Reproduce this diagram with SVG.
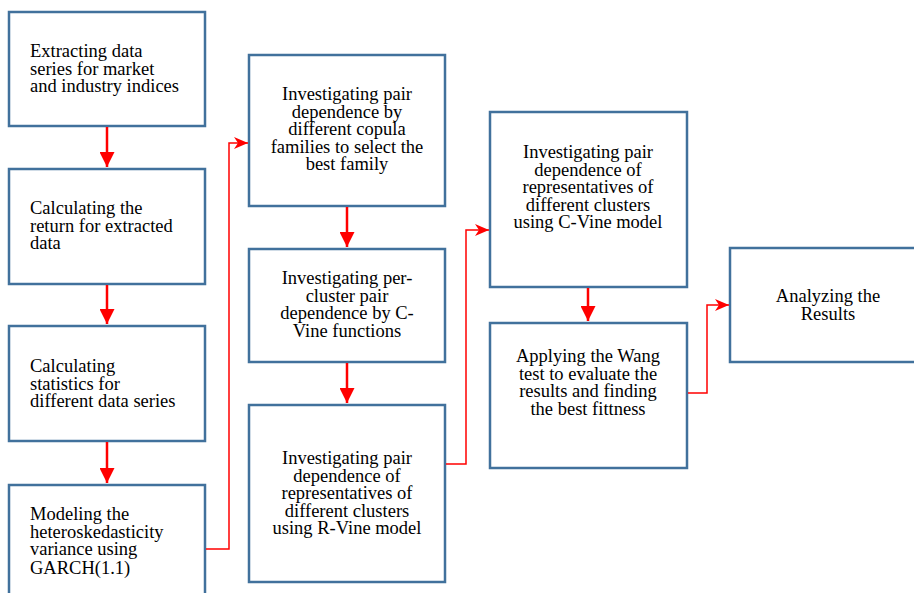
<svg xmlns="http://www.w3.org/2000/svg" width="914" height="593" viewBox="0 0 914 593">
<defs>
<marker id="tri" markerWidth="6" markerHeight="6" refX="6" refY="3" orient="auto" markerUnits="strokeWidth">
<path d="M0,0 L6,3 L0,6 Z" fill="#FF0000"/>
</marker>
<marker id="stealth" markerWidth="14" markerHeight="12" refX="14" refY="6" orient="auto" markerUnits="userSpaceOnUse">
<path d="M0,0 L14,6 L0,12 L4,6 Z" fill="#FF0000"/>
</marker>
</defs>
<style>
.box{fill:#FFFFFF;stroke:#41719C;stroke-width:2.5}
.t{font-family:"Liberation Serif","Times New Roman",serif;font-size:18.5px;fill:#000000}
.c{text-anchor:middle}
.down{stroke:#FF0000;stroke-width:2.5;fill:none;marker-end:url(#tri)}
.elbow{stroke:#FF0000;stroke-width:1.5;fill:none;marker-end:url(#stealth)}
</style>
<rect width="914" height="593" fill="#FFFFFF"/>

<g id="n1"><rect class="box" x="9" y="12" width="196" height="114"/>
<text class="t" x="30"><tspan x="30" y="57">Extracting data</tspan><tspan x="30" y="74.5">series for market</tspan><tspan x="30" y="92">and industry indices</tspan></text></g>

<g id="n2"><rect class="box" x="9" y="169" width="196" height="115"/>
<text class="t"><tspan x="30" y="214">Calculating the</tspan><tspan x="30" y="231.5">return for extracted</tspan><tspan x="30" y="249">data</tspan></text></g>

<g id="n3"><rect class="box" x="9" y="326" width="196" height="115"/>
<text class="t"><tspan x="30" y="372">Calculating</tspan><tspan x="30" y="389.5">statistics for</tspan><tspan x="30" y="407">different data series</tspan></text></g>

<g id="n4"><rect class="box" x="9" y="485" width="196" height="130"/>
<text class="t"><tspan x="30" y="520">Modeling the</tspan><tspan x="30" y="537.5">heteroskedasticity</tspan><tspan x="30" y="555">variance using</tspan><tspan x="30" y="574">GARCH(1.1)</tspan></text></g>

<g id="n5"><rect class="box" x="249" y="55" width="196" height="151"/>
<text class="t c"><tspan x="347" y="100">Investigating pair</tspan><tspan x="347" y="117.5">dependence by</tspan><tspan x="347" y="135">different copula</tspan><tspan x="347" y="152.5">families to select the</tspan><tspan x="347" y="170">best family</tspan></text></g>

<g id="n6"><rect class="box" x="249" y="249" width="196" height="113"/>
<text class="t c"><tspan x="347" y="284">Investigating per-</tspan><tspan x="347" y="301.5">cluster pair</tspan><tspan x="347" y="319">dependence by C-</tspan><tspan x="347" y="336.5">Vine functions</tspan></text></g>

<g id="n7"><rect class="box" x="249" y="405" width="196" height="177"/>
<text class="t c"><tspan x="347" y="464">Investigating pair</tspan><tspan x="347" y="481.5">dependence of</tspan><tspan x="347" y="499">representatives of</tspan><tspan x="347" y="516.5">different clusters</tspan><tspan x="347" y="534">using R-Vine model</tspan></text></g>

<g id="n8"><rect class="box" x="490" y="112" width="197" height="175"/>
<text class="t c"><tspan x="588" y="158">Investigating pair</tspan><tspan x="588" y="175.5">dependence of</tspan><tspan x="588" y="193">representatives of</tspan><tspan x="588" y="210.5">different clusters</tspan><tspan x="588" y="228">using C-Vine model</tspan></text></g>

<g id="n9"><rect class="box" x="490" y="323" width="197" height="145"/>
<text class="t c"><tspan x="588" y="362">Applying the Wang</tspan><tspan x="588" y="379.5">test to evaluate the</tspan><tspan x="588" y="397">results and finding</tspan><tspan x="588" y="414.5">the best fittness</tspan></text></g>

<g id="n10"><rect class="box" x="730" y="248" width="196" height="114"/>
<text class="t c"><tspan x="828" y="302">Analyzing the</tspan><tspan x="828" y="319.5">Results</tspan></text></g>

<g id="connectors">
<line class="down" x1="107" y1="127" x2="107" y2="167"/>
<line class="down" x1="107" y1="285" x2="107" y2="324"/>
<line class="down" x1="107" y1="442" x2="107" y2="483"/>
<line class="down" x1="347" y1="207" x2="347" y2="247"/>
<line class="down" x1="347" y1="363" x2="347" y2="403"/>
<line class="down" x1="588" y1="288" x2="588" y2="321"/>
<polyline class="elbow" points="206,549 229,549 229,143 248,143"/>
<polyline class="elbow" points="446,464 466,464 466,230 489,230"/>
<polyline class="elbow" points="688,393 707,393 707,305 729,305"/>
</g>
</svg>
